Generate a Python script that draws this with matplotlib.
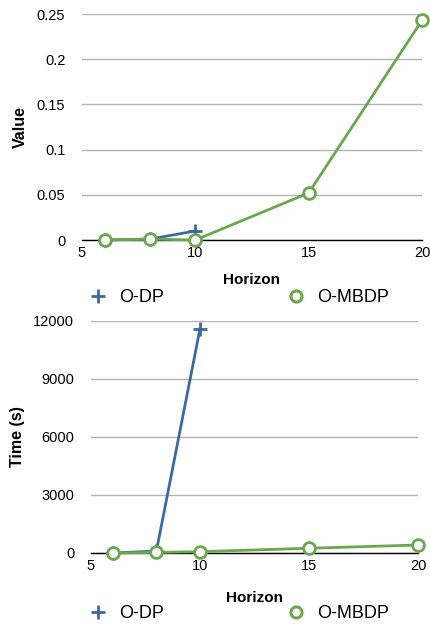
import matplotlib
matplotlib.use('Agg')
from matplotlib import pyplot as plt
from matplotlib.lines import Line2D

plt.rcParams['font.family'] = ['Liberation Sans', 'DejaVu Sans']

horizon_dp = [6, 8, 10]
horizon_mbdp = [6, 8, 10, 15, 20]

value_dp = [0, 0.001, 0.01]
value_mbdp = [0, 0.001, 0, 0.052, 0.243]

time_dp = [0, 100, 11600]
time_mbdp = [0, 30, 70, 245, 414]

x_ticks = [5, 10, 15, 20]
value_ticks = [0, 0.05, 0.1, 0.15, 0.2, 0.25]
value_labels = ['0', '0.05', '0.1', '0.15', '0.2', '0.25']
time_ticks = [0, 3000, 6000, 9000, 12000]

blue = '#3b6aa3'
green = '#6ca64f'


def style_axes(ax, yticks, ylabels, ylabel, xpad):
    ax.set_xlim(5, 20)
    ax.set_xticks(x_ticks)
    ax.set_yticks(yticks)
    ax.set_yticklabels(ylabels)
    ax.set_ylim(yticks[0], yticks[-1])
    ax.grid(axis='y', color='#b4b4b4', linewidth=1)
    ax.set_axisbelow(True)
    for s in ['top', 'right', 'left']:
        ax.spines[s].set_visible(False)
    ax.spines['bottom'].set_color('black')
    ax.spines['bottom'].set_linewidth(1)
    ax.tick_params(length=0, labelsize=10.5, pad=4)
    ax.tick_params(axis='y', pad=12)
    ax.set_xlabel('Horizon', fontweight='bold', fontsize=11, labelpad=xpad)
    ax.set_ylabel(ylabel, fontweight='bold', fontsize=11.5, labelpad=6)


def draw(ax, y_dp, y_mbdp):
    ax.plot(horizon_dp, y_dp, color=blue, lw=2, marker='+', ms=10, mew=2,
            clip_on=False, zorder=3)
    ax.plot(horizon_mbdp, y_mbdp, color=green, lw=2, marker='o', ms=8.5, mew=2,
            mfc='white', clip_on=False, zorder=4)


def add_legend(y):
    handles = [
        Line2D([], [], color=blue, ls='none', marker='+', ms=10, mew=2),
        Line2D([], [], color=green, ls='none', marker='o', ms=8, mew=2.2,
               mfc='white'),
    ]
    fig.legend(handles, ['O-DP', 'O-MBDP'], loc='center left',
               bbox_to_anchor=(87 / 430, 1 - y / 627), ncol=2, frameon=False,
               fontsize=13, columnspacing=6.7, handlelength=1.2,
               handletextpad=0.57, borderaxespad=0, borderpad=0)


fig = plt.figure(figsize=(4.30, 6.27), dpi=100)

ax1 = fig.add_axes([82 / 430, 1 - 240 / 627, (422 - 82) / 430, 226 / 627])
draw(ax1, value_dp, value_mbdp)
style_axes(ax1, value_ticks, value_labels, 'Value', 10)
add_legend(298)

ax2 = fig.add_axes([91 / 430, 1 - 553 / 627, (418 - 91) / 430, 232 / 627])
draw(ax2, time_dp, time_mbdp)
style_axes(ax2, time_ticks, [str(t) for t in time_ticks], 'Time (s)', 13)
add_legend(614)

fig.savefig('out.png', dpi=100)
